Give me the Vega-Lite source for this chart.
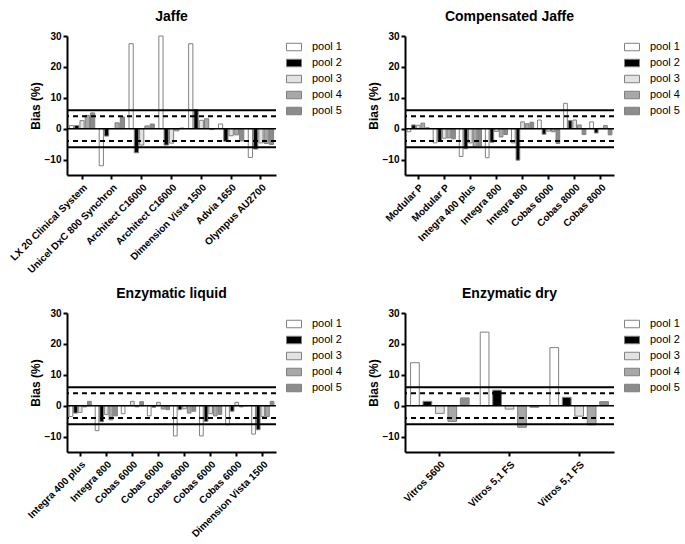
{
  "$schema": "https://vega.github.io/schema/vega-lite/v6.json",
  "background": "white",
  "padding": {"left": 8, "top": 10, "right": 5, "bottom": 5},
  "datasets": {
    "jaffe": [
      {"k":"1|LX 20 Clinical System","pool":"pool 1","bias":1},
      {"k":"1|LX 20 Clinical System","pool":"pool 2","bias":1},
      {"k":"1|LX 20 Clinical System","pool":"pool 3","bias":2.6},
      {"k":"1|LX 20 Clinical System","pool":"pool 4","bias":4.3},
      {"k":"1|LX 20 Clinical System","pool":"pool 5","bias":5.1},
      {"k":"2|Unicel DxC 800 Synchron","pool":"pool 1","bias":-12},
      {"k":"2|Unicel DxC 800 Synchron","pool":"pool 2","bias":-2.4},
      {"k":"2|Unicel DxC 800 Synchron","pool":"pool 3","bias":0},
      {"k":"2|Unicel DxC 800 Synchron","pool":"pool 4","bias":1.9},
      {"k":"2|Unicel DxC 800 Synchron","pool":"pool 5","bias":3.8},
      {"k":"3|Architect C16000","pool":"pool 1","bias":27.5},
      {"k":"3|Architect C16000","pool":"pool 2","bias":-7.8},
      {"k":"3|Architect C16000","pool":"pool 3","bias":-5.3},
      {"k":"3|Architect C16000","pool":"pool 4","bias":0.9},
      {"k":"3|Architect C16000","pool":"pool 5","bias":1.5},
      {"k":"4|Architect C16000","pool":"pool 1","bias":30},
      {"k":"4|Architect C16000","pool":"pool 2","bias":-5.3},
      {"k":"4|Architect C16000","pool":"pool 3","bias":-4.7},
      {"k":"4|Architect C16000","pool":"pool 4","bias":-0.7},
      {"k":"4|Architect C16000","pool":"pool 5","bias":0.2},
      {"k":"5|Dimension Vista 1500","pool":"pool 1","bias":27.5},
      {"k":"5|Dimension Vista 1500","pool":"pool 2","bias":6.2},
      {"k":"5|Dimension Vista 1500","pool":"pool 3","bias":2.7},
      {"k":"5|Dimension Vista 1500","pool":"pool 4","bias":3.2},
      {"k":"5|Dimension Vista 1500","pool":"pool 5","bias":-0.3},
      {"k":"6|Advia 1650","pool":"pool 1","bias":1.5},
      {"k":"6|Advia 1650","pool":"pool 2","bias":-4.1},
      {"k":"6|Advia 1650","pool":"pool 3","bias":-2.3},
      {"k":"6|Advia 1650","pool":"pool 4","bias":-2},
      {"k":"6|Advia 1650","pool":"pool 5","bias":-4},
      {"k":"7|Olympus AU2700","pool":"pool 1","bias":-9.3},
      {"k":"7|Olympus AU2700","pool":"pool 2","bias":-6.6},
      {"k":"7|Olympus AU2700","pool":"pool 3","bias":-4.6},
      {"k":"7|Olympus AU2700","pool":"pool 4","bias":-4.8},
      {"k":"7|Olympus AU2700","pool":"pool 5","bias":-5.1}
    ],
    "comp": [
      {"k":"1|Modular P","pool":"pool 1","bias":-1},
      {"k":"1|Modular P","pool":"pool 2","bias":1.2},
      {"k":"1|Modular P","pool":"pool 3","bias":1.1},
      {"k":"1|Modular P","pool":"pool 4","bias":1.8},
      {"k":"1|Modular P","pool":"pool 5","bias":0.3},
      {"k":"2|Modular P","pool":"pool 1","bias":-4.6},
      {"k":"2|Modular P","pool":"pool 2","bias":-4.1},
      {"k":"2|Modular P","pool":"pool 3","bias":-3.1},
      {"k":"2|Modular P","pool":"pool 4","bias":-3},
      {"k":"2|Modular P","pool":"pool 5","bias":-3.3},
      {"k":"3|Integra 400 plus","pool":"pool 1","bias":-9},
      {"k":"3|Integra 400 plus","pool":"pool 2","bias":-6.5},
      {"k":"3|Integra 400 plus","pool":"pool 3","bias":-4.6},
      {"k":"3|Integra 400 plus","pool":"pool 4","bias":-5.9},
      {"k":"3|Integra 400 plus","pool":"pool 5","bias":-5.6},
      {"k":"4|Integra 800","pool":"pool 1","bias":-9.4},
      {"k":"4|Integra 800","pool":"pool 2","bias":-4.4},
      {"k":"4|Integra 800","pool":"pool 3","bias":-0.9},
      {"k":"4|Integra 800","pool":"pool 4","bias":-2.7},
      {"k":"4|Integra 800","pool":"pool 5","bias":-1.9},
      {"k":"5|Integra 800","pool":"pool 1","bias":-4.6},
      {"k":"5|Integra 800","pool":"pool 2","bias":-10.2},
      {"k":"5|Integra 800","pool":"pool 3","bias":2.2},
      {"k":"5|Integra 800","pool":"pool 4","bias":1.6},
      {"k":"5|Integra 800","pool":"pool 5","bias":2.1},
      {"k":"6|Cobas 6000","pool":"pool 1","bias":2.8},
      {"k":"6|Cobas 6000","pool":"pool 2","bias":-1.8},
      {"k":"6|Cobas 6000","pool":"pool 3","bias":-0.8},
      {"k":"6|Cobas 6000","pool":"pool 4","bias":-1},
      {"k":"6|Cobas 6000","pool":"pool 5","bias":-4.8},
      {"k":"7|Cobas 8000","pool":"pool 1","bias":8.2},
      {"k":"7|Cobas 8000","pool":"pool 2","bias":2.6},
      {"k":"7|Cobas 8000","pool":"pool 3","bias":2.8},
      {"k":"7|Cobas 8000","pool":"pool 4","bias":1.2},
      {"k":"7|Cobas 8000","pool":"pool 5","bias":-1.9},
      {"k":"8|Cobas 8000","pool":"pool 1","bias":2.2},
      {"k":"8|Cobas 8000","pool":"pool 2","bias":-1.4},
      {"k":"8|Cobas 8000","pool":"pool 3","bias":0.1},
      {"k":"8|Cobas 8000","pool":"pool 4","bias":1},
      {"k":"8|Cobas 8000","pool":"pool 5","bias":-2}
    ],
    "liq": [
      {"k":"1|Integra 400 plus","pool":"pool 1","bias":-3.5},
      {"k":"1|Integra 400 plus","pool":"pool 2","bias":-2.4},
      {"k":"1|Integra 400 plus","pool":"pool 3","bias":-2.2},
      {"k":"1|Integra 400 plus","pool":"pool 4","bias":-0.4},
      {"k":"1|Integra 400 plus","pool":"pool 5","bias":1.4},
      {"k":"2|Integra 800","pool":"pool 1","bias":-8.1},
      {"k":"2|Integra 800","pool":"pool 2","bias":-5.2},
      {"k":"2|Integra 800","pool":"pool 3","bias":-2.9},
      {"k":"2|Integra 800","pool":"pool 4","bias":-4.6},
      {"k":"2|Integra 800","pool":"pool 5","bias":-3.3},
      {"k":"3|Cobas 6000","pool":"pool 1","bias":-2.6},
      {"k":"3|Cobas 6000","pool":"pool 2","bias":0},
      {"k":"3|Cobas 6000","pool":"pool 3","bias":1.4},
      {"k":"3|Cobas 6000","pool":"pool 4","bias":-0.4},
      {"k":"3|Cobas 6000","pool":"pool 5","bias":1.3},
      {"k":"4|Cobas 6000","pool":"pool 1","bias":-3.3},
      {"k":"4|Cobas 6000","pool":"pool 2","bias":-0.5},
      {"k":"4|Cobas 6000","pool":"pool 3","bias":1.1},
      {"k":"4|Cobas 6000","pool":"pool 4","bias":-1.1},
      {"k":"4|Cobas 6000","pool":"pool 5","bias":-1.3},
      {"k":"5|Cobas 6000","pool":"pool 1","bias":-9.8},
      {"k":"5|Cobas 6000","pool":"pool 2","bias":-1.3},
      {"k":"5|Cobas 6000","pool":"pool 3","bias":-1},
      {"k":"5|Cobas 6000","pool":"pool 4","bias":-2.4},
      {"k":"5|Cobas 6000","pool":"pool 5","bias":-1.8},
      {"k":"6|Cobas 6000","pool":"pool 1","bias":-9.8},
      {"k":"6|Cobas 6000","pool":"pool 2","bias":-5.1},
      {"k":"6|Cobas 6000","pool":"pool 3","bias":-2.6},
      {"k":"6|Cobas 6000","pool":"pool 4","bias":-3.3},
      {"k":"6|Cobas 6000","pool":"pool 5","bias":-2.8},
      {"k":"7|Cobas 6000","pool":"pool 1","bias":-6.2},
      {"k":"7|Cobas 6000","pool":"pool 2","bias":-1.8},
      {"k":"7|Cobas 6000","pool":"pool 3","bias":1.1},
      {"k":"7|Cobas 6000","pool":"pool 4","bias":-0.4},
      {"k":"7|Cobas 6000","pool":"pool 5","bias":0},
      {"k":"8|Dimension Vista 1500","pool":"pool 1","bias":-9.2},
      {"k":"8|Dimension Vista 1500","pool":"pool 2","bias":-7.8},
      {"k":"8|Dimension Vista 1500","pool":"pool 3","bias":-3.5},
      {"k":"8|Dimension Vista 1500","pool":"pool 4","bias":-3.5},
      {"k":"8|Dimension Vista 1500","pool":"pool 5","bias":1.4}
    ],
    "dry": [
      {"k":"1|Vitros 5600","pool":"pool 1","bias":13.9},
      {"k":"1|Vitros 5600","pool":"pool 2","bias":1.4},
      {"k":"1|Vitros 5600","pool":"pool 3","bias":-2.5},
      {"k":"1|Vitros 5600","pool":"pool 4","bias":-5.1},
      {"k":"1|Vitros 5600","pool":"pool 5","bias":2.5},
      {"k":"2|Vitros 5,1 FS","pool":"pool 1","bias":23.8},
      {"k":"2|Vitros 5,1 FS","pool":"pool 2","bias":5},
      {"k":"2|Vitros 5,1 FS","pool":"pool 3","bias":-1.1},
      {"k":"2|Vitros 5,1 FS","pool":"pool 4","bias":-7},
      {"k":"2|Vitros 5,1 FS","pool":"pool 5","bias":-0.5},
      {"k":"3|Vitros 5,1 FS","pool":"pool 1","bias":18.8},
      {"k":"3|Vitros 5,1 FS","pool":"pool 2","bias":2.7},
      {"k":"3|Vitros 5,1 FS","pool":"pool 3","bias":-3.4},
      {"k":"3|Vitros 5,1 FS","pool":"pool 4","bias":-6.2},
      {"k":"3|Vitros 5,1 FS","pool":"pool 5","bias":1.3}
    ],
    "solid": [{"v":6},{"v":-6}],
    "dashed": [{"v":4},{"v":-4}],
    "zero": [{"v":0}]
  },
  "columns": 2,
  "bounds": "flush",
  "spacing": {"row": 138, "column": 129},
  "concat": [
    {
      "title": "Jaffe",
      "width": 209, "height": 139,
      "layer": [
        {"data": {"name": "jaffe"}, "mark": {"type": "bar", "stroke": "#808080", "strokeWidth": 1},
         "encoding": {
           "x": {"field": "k", "type": "nominal", "sort": null, "scale": {"paddingInner": 0.15, "paddingOuter": 0.08}, "axis": {"title": null, "labelExpr": "split(datum.label,'|')[1]"}},
           "xOffset": {"field": "pool", "type": "nominal", "scale": {"paddingInner": 0.2}},
           "y": {"field": "bias", "type": "quantitative", "scale": {"domain": [-15, 30], "nice": false, "zero": false}, "axis": {"title": "Bias (%)", "values": [-10, 0, 10, 20, 30], "labelOverlap": false, "labelFlush": false}},
           "color": {"field": "pool", "type": "nominal", "scale": {"domain": ["pool 1","pool 2","pool 3","pool 4","pool 5"], "range": ["#ffffff","#000000","#e2e2e2","#a8a8a8","#8c8c8c"]}, "legend": {"title": null}}
         }},
        {"data": {"name": "zero"}, "mark": {"type": "rule", "strokeWidth": 1.5, "color": "black"}, "encoding": {"y": {"field": "v", "type": "quantitative", "axis": {"title": "Bias (%)", "values": [-10, 0, 10, 20, 30], "labelOverlap": false, "labelFlush": false}}}},
        {"data": {"name": "solid"}, "mark": {"type": "rule", "strokeWidth": 2, "color": "black"}, "encoding": {"y": {"field": "v", "type": "quantitative", "axis": {"title": "Bias (%)", "values": [-10, 0, 10, 20, 30], "labelOverlap": false, "labelFlush": false}}}},
        {"data": {"name": "dashed"}, "mark": {"type": "rule", "strokeWidth": 2, "strokeDash": [5, 4], "color": "black"}, "encoding": {"y": {"field": "v", "type": "quantitative", "axis": {"title": "Bias (%)", "values": [-10, 0, 10, 20, 30], "labelOverlap": false, "labelFlush": false}}}}
      ]
    },
    {
      "title": "Compensated Jaffe",
      "width": 209, "height": 139,
      "layer": [
        {"data": {"name": "comp"}, "mark": {"type": "bar", "stroke": "#808080", "strokeWidth": 1},
         "encoding": {
           "x": {"field": "k", "type": "nominal", "sort": null, "scale": {"paddingInner": 0.15, "paddingOuter": 0.08}, "axis": {"title": null, "labelExpr": "split(datum.label,'|')[1]"}},
           "xOffset": {"field": "pool", "type": "nominal", "scale": {"paddingInner": 0.2}},
           "y": {"field": "bias", "type": "quantitative", "scale": {"domain": [-15, 30], "nice": false, "zero": false}, "axis": {"title": "Bias (%)", "values": [-10, 0, 10, 20, 30], "labelOverlap": false, "labelFlush": false}},
           "color": {"field": "pool", "type": "nominal", "scale": {"domain": ["pool 1","pool 2","pool 3","pool 4","pool 5"], "range": ["#ffffff","#000000","#e2e2e2","#a8a8a8","#8c8c8c"]}, "legend": {"title": null}}
         }},
        {"data": {"name": "zero"}, "mark": {"type": "rule", "strokeWidth": 1.5, "color": "black"}, "encoding": {"y": {"field": "v", "type": "quantitative", "axis": {"title": "Bias (%)", "values": [-10, 0, 10, 20, 30], "labelOverlap": false, "labelFlush": false}}}},
        {"data": {"name": "solid"}, "mark": {"type": "rule", "strokeWidth": 2, "color": "black"}, "encoding": {"y": {"field": "v", "type": "quantitative", "axis": {"title": "Bias (%)", "values": [-10, 0, 10, 20, 30], "labelOverlap": false, "labelFlush": false}}}},
        {"data": {"name": "dashed"}, "mark": {"type": "rule", "strokeWidth": 2, "strokeDash": [5, 4], "color": "black"}, "encoding": {"y": {"field": "v", "type": "quantitative", "axis": {"title": "Bias (%)", "values": [-10, 0, 10, 20, 30], "labelOverlap": false, "labelFlush": false}}}}
      ]
    },
    {
      "title": "Enzymatic liquid",
      "width": 209, "height": 139,
      "layer": [
        {"data": {"name": "liq"}, "mark": {"type": "bar", "stroke": "#808080", "strokeWidth": 1},
         "encoding": {
           "x": {"field": "k", "type": "nominal", "sort": null, "scale": {"paddingInner": 0.15, "paddingOuter": 0.08}, "axis": {"title": null, "labelExpr": "split(datum.label,'|')[1]"}},
           "xOffset": {"field": "pool", "type": "nominal", "scale": {"paddingInner": 0.2}},
           "y": {"field": "bias", "type": "quantitative", "scale": {"domain": [-15, 30], "nice": false, "zero": false}, "axis": {"title": "Bias (%)", "values": [-10, 0, 10, 20, 30], "labelOverlap": false, "labelFlush": false}},
           "color": {"field": "pool", "type": "nominal", "scale": {"domain": ["pool 1","pool 2","pool 3","pool 4","pool 5"], "range": ["#ffffff","#000000","#e2e2e2","#a8a8a8","#8c8c8c"]}, "legend": {"title": null}}
         }},
        {"data": {"name": "zero"}, "mark": {"type": "rule", "strokeWidth": 1.5, "color": "black"}, "encoding": {"y": {"field": "v", "type": "quantitative", "axis": {"title": "Bias (%)", "values": [-10, 0, 10, 20, 30], "labelOverlap": false, "labelFlush": false}}}},
        {"data": {"name": "solid"}, "mark": {"type": "rule", "strokeWidth": 2, "color": "black"}, "encoding": {"y": {"field": "v", "type": "quantitative", "axis": {"title": "Bias (%)", "values": [-10, 0, 10, 20, 30], "labelOverlap": false, "labelFlush": false}}}},
        {"data": {"name": "dashed"}, "mark": {"type": "rule", "strokeWidth": 2, "strokeDash": [5, 4], "color": "black"}, "encoding": {"y": {"field": "v", "type": "quantitative", "axis": {"title": "Bias (%)", "values": [-10, 0, 10, 20, 30], "labelOverlap": false, "labelFlush": false}}}}
      ]
    },
    {
      "title": "Enzymatic dry",
      "width": 209, "height": 139,
      "layer": [
        {"data": {"name": "dry"}, "mark": {"type": "bar", "stroke": "#808080", "strokeWidth": 1},
         "encoding": {
           "x": {"field": "k", "type": "nominal", "sort": null, "scale": {"paddingInner": 0.16, "paddingOuter": 0.08}, "axis": {"title": null, "labelExpr": "split(datum.label,'|')[1]"}},
           "xOffset": {"field": "pool", "type": "nominal", "scale": {"paddingInner": 0.3}},
           "y": {"field": "bias", "type": "quantitative", "scale": {"domain": [-15, 30], "nice": false, "zero": false}, "axis": {"title": "Bias (%)", "values": [-10, 0, 10, 20, 30], "labelOverlap": false, "labelFlush": false}},
           "color": {"field": "pool", "type": "nominal", "scale": {"domain": ["pool 1","pool 2","pool 3","pool 4","pool 5"], "range": ["#ffffff","#000000","#e2e2e2","#a8a8a8","#8c8c8c"]}, "legend": {"title": null}}
         }},
        {"data": {"name": "zero"}, "mark": {"type": "rule", "strokeWidth": 1.5, "color": "black"}, "encoding": {"y": {"field": "v", "type": "quantitative", "axis": {"title": "Bias (%)", "values": [-10, 0, 10, 20, 30], "labelOverlap": false, "labelFlush": false}}}},
        {"data": {"name": "solid"}, "mark": {"type": "rule", "strokeWidth": 2, "color": "black"}, "encoding": {"y": {"field": "v", "type": "quantitative", "axis": {"title": "Bias (%)", "values": [-10, 0, 10, 20, 30], "labelOverlap": false, "labelFlush": false}}}},
        {"data": {"name": "dashed"}, "mark": {"type": "rule", "strokeWidth": 2, "strokeDash": [5, 4], "color": "black"}, "encoding": {"y": {"field": "v", "type": "quantitative", "axis": {"title": "Bias (%)", "values": [-10, 0, 10, 20, 30], "labelOverlap": false, "labelFlush": false}}}}
      ]
    }
  ],
  "resolve": {
    "scale": {"x": "independent", "xOffset": "independent", "y": "independent"},
    "legend": {"color": "independent"},
    "axis": {"x": "independent", "y": "independent"}
  },
  "config": {
    "view": {"stroke": null},
    "font": "Liberation Sans",
    "axis": {
      "labelFont": "Liberation Sans", "labelFontWeight": "bold", "labelFontSize": 10, "labelColor": "black",
      "titleFont": "Liberation Sans", "titleFontWeight": "bold", "titleFontSize": 12, "titleColor": "black",
      "domainColor": "black", "domainWidth": 2, "tickColor": "black", "tickWidth": 2, "tickSize": 4, "grid": false
    },
    "axisX": {"labelAngle": -45, "labelPadding": 3},
    "axisY": {"labelPadding": 2, "titlePadding": 2, "labelOverlap": false},
    "title": {"font": "Liberation Sans", "fontSize": 14, "fontWeight": "bold", "offset": 7, "color": "black"},
    "legend": {
      "labelFont": "Liberation Sans", "labelFontSize": 11, "labelColor": "#000000",
      "symbolType": "M-1,-0.5H1V0.5H-1Z", "symbolSize": 225, "symbolStrokeColor": "#808080", "symbolStrokeWidth": 1,
      "rowPadding": 2, "offset": 7, "padding": 3, "labelOffset": 10
    }
  }
}
